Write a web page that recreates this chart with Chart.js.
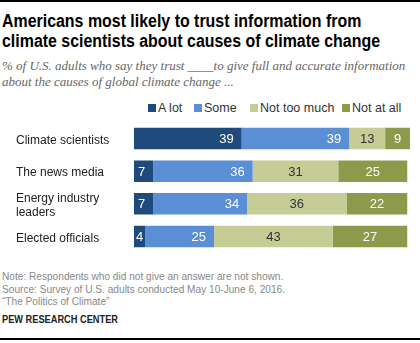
<!DOCTYPE html>
<html>
<head>
<meta charset="utf-8">
<script src="https://cdn.jsdelivr.net/npm/chart.js@4/dist/chart.umd.min.js"></script>
<style>
  html, body { margin:0; padding:0; background:#fff; }
  body { width:420px; height:343px; position:relative; overflow:hidden; font-family:"Liberation Sans", Arial, sans-serif; }
  #topline { position:absolute; left:0; top:0; width:420px; height:2px; background:#000; }
  #botline { position:absolute; left:0; top:338px; width:420px; height:2px; background:#000; }
  .sq { transform-origin:0 0; white-space:nowrap; }
  #title { position:absolute; left:2px; top:11px; font-weight:bold; font-size:18px; line-height:20px; color:#000; transform:scaleX(0.885); }
  #subtitle { position:absolute; left:2px; top:58px; font-family:"Liberation Serif",serif; font-style:italic; font-size:13px; line-height:15.5px; color:#666; white-space:nowrap; }
  #legend { position:absolute; top:101px; left:0; width:420px; height:16px; font-size:12.5px; color:#333; }
  .li { position:absolute; top:0; white-space:nowrap; line-height:14px; }
  .sw { display:inline-block; width:8px; height:8px; margin-right:2px; vertical-align:0px; }
  #chartwrap { position:absolute; left:0; top:115px; width:420px; height:145px; }
  #notes { position:absolute; left:2px; top:270px; font-size:11px; line-height:12.5px; color:#888; transform:scaleX(0.92); }
  #pew { position:absolute; left:2px; top:313px; font-weight:bold; font-size:11px; color:#222; transform:scaleX(0.84); }
</style>
</head>
<body>
<div id="topline"></div>
<div id="title" class="sq">Americans most likely to trust information from<br>climate scientists about causes of climate change</div>
<div id="subtitle">% of U.S. adults who say they trust ____to give full and accurate information<br>about the causes of global climate change ...</div>
<div id="legend"></div>
<div id="chartwrap"><canvas id="c" width="420" height="145"></canvas></div>
<div id="notes" class="sq">Note: Respondents who did not give an answer are not shown.<br>Source: Survey of U.S. adults conducted May 10-June 6, 2016.<br>“The Politics of Climate”</div>
<div id="pew" class="sq">PEW RESEARCH CENTER</div>
<div id="botline"></div>
<script>
const categories = ["Climate scientists", "The news media", ["Energy industry", "leaders"], "Elected officials"];
const seriesNames = ["A lot", "Some", "Not too much", "Not at all"];
const aLot = [39, 7, 7, 4];
const some = [39, 36, 34, 25];
const notTooMuch = [13, 31, 36, 43];
const notAtAll = [9, 25, 22, 27];
const colors = ["#1f4a7c", "#5a8fd6", "#c6cc96", "#8e9a4b"];
const labelColors = ["#ffffff", "#ffffff", "#333333", "#ffffff"];
const labelAlign = ["right", "right", "center", "center"];
const legendX = [148, 194, 250, 342];

const seriesValues = [aLot, some, notTooMuch, notAtAll];

const leg = document.getElementById('legend');
seriesNames.forEach((n, i) => {
  const d = document.createElement('div');
  d.className = 'li';
  d.style.left = legendX[i] + 'px';
  d.innerHTML = '<span class="sw" style="background:' + colors[i] + '"></span>' + n;
  leg.appendChild(d);
});

const valueLabels = {
  id: 'valueLabels',
  afterDatasetsDraw(chart) {
    const ctx = chart.ctx;
    ctx.save();
    ctx.font = '13px "Liberation Sans", Arial, sans-serif';
    ctx.textBaseline = 'middle';
    chart.data.datasets.forEach((ds, di) => {
      const meta = chart.getDatasetMeta(di);
      meta.data.forEach((bar, i) => {
        const v = ds.data[i];
        const left = bar.base, right = bar.x;
        ctx.fillStyle = labelColors[di];
        let x;
        if (labelAlign[di] === 'right') {
          const w = ctx.measureText(String(v)).width;
          x = right - 8;
          if (x - w < left + 2) { ctx.textAlign = 'center'; x = (left + right) / 2; }
          else ctx.textAlign = 'right';
        } else {
          ctx.textAlign = 'center';
          x = (left + right) / 2;
        }
        ctx.fillText(String(v), x, bar.y + 1);
      });
    });
    ctx.restore();
  }
};

new Chart(document.getElementById('c'), {
  type: 'bar',
  data: {
    labels: categories,
    datasets: seriesValues.map((vals, i) => ({
      label: seriesNames[i],
      data: vals,
      backgroundColor: colors[i],
      borderWidth: 0,
      barPercentage: 0.657,
      categoryPercentage: 1.0
    }))
  },
  options: {
    indexAxis: 'y',
    responsive: false,
    animation: false,
    events: [],
    layout: { padding: { left: 16, right: 10, top: 2.5, bottom: 2.5 } },
    plugins: { legend: { display: false }, tooltip: { enabled: false } },
    scales: {
      x: { stacked: true, min: 0, max: 100, display: false },
      y: {
        stacked: true,
        grid: { display: false, drawTicks: false },
        border: { display: false },
        afterFit(scale) { scale.width = 118; },
        ticks: {
          crossAlign: 'far',
          padding: 0,
          labelOffset: 2,
          color: '#222',
          font: { family: '"Liberation Sans", Arial, sans-serif', size: 12, lineHeight: 1.2 }
        }
      }
    }
  },
  plugins: [valueLabels]
});
</script>
</body>
</html>
